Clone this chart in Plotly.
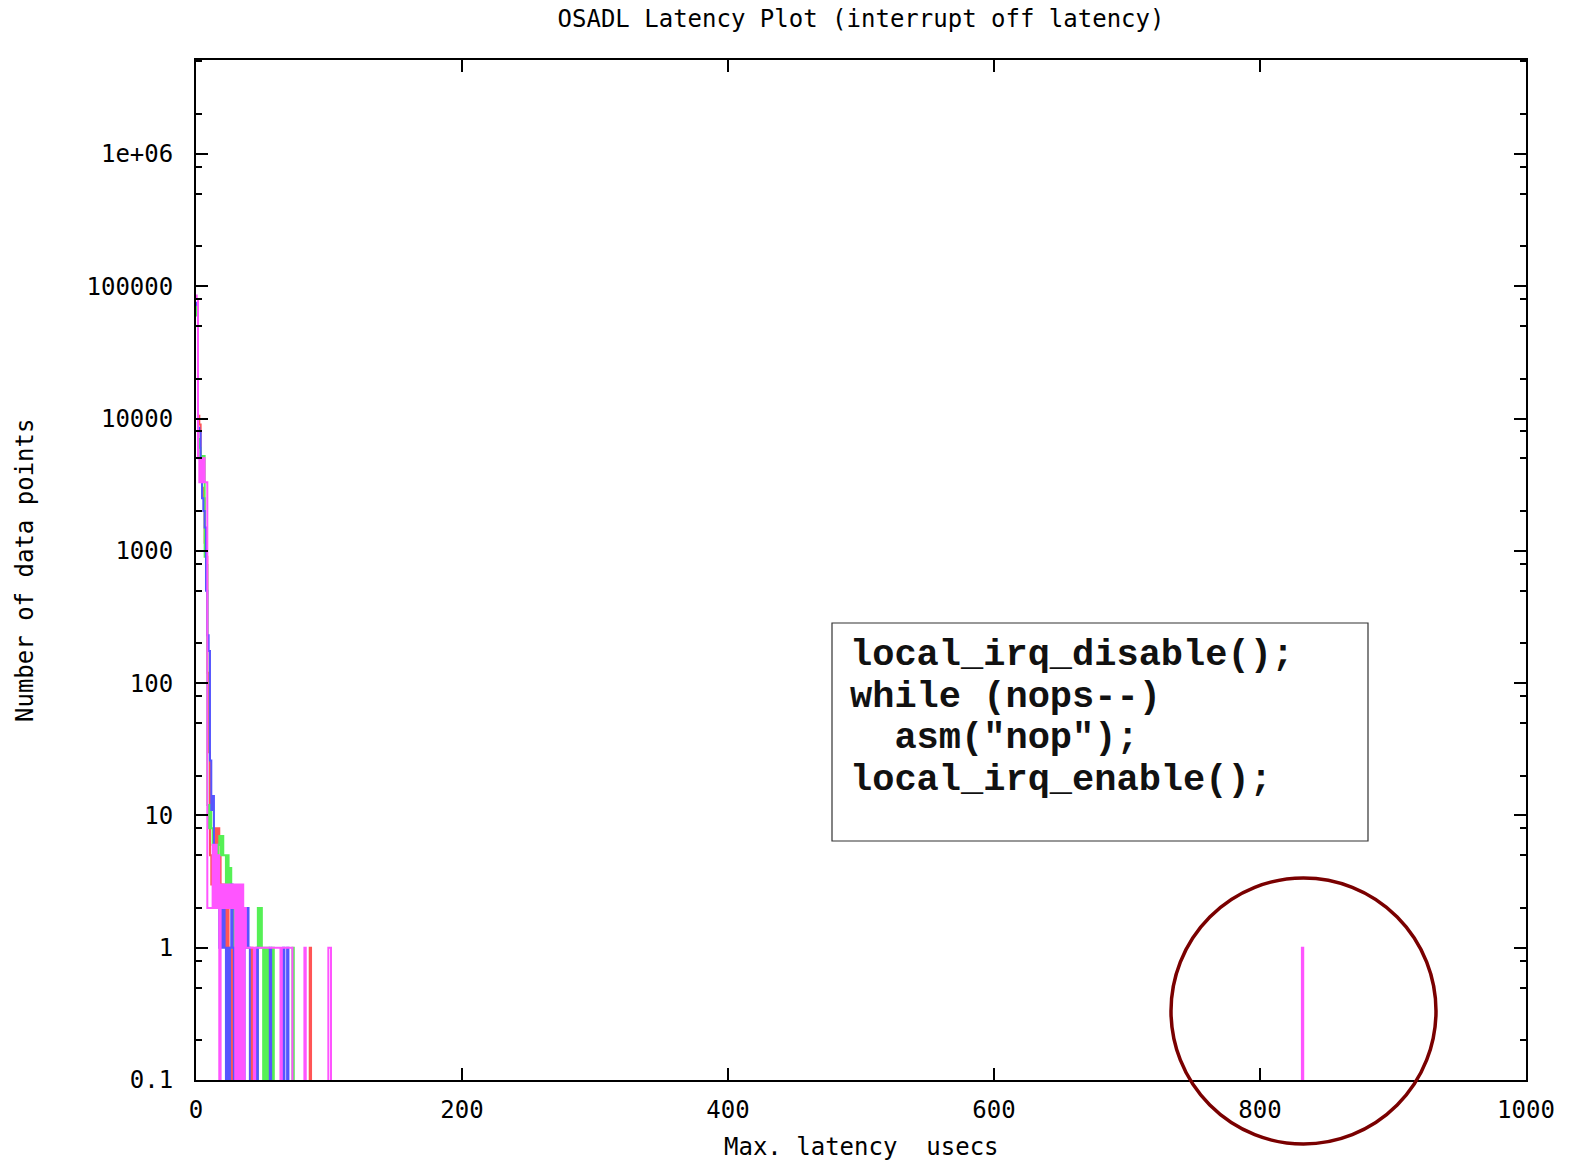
import plotly.graph_objects as go

# ---------------- data ----------------
# histogram counts per 1-usec latency bin (bin index = latency in usecs), four CPUs
red_counts = [70000, 68000, 10500, 9000, 4000, 3000, 2500, 1150, 900, 120,
              30, 5, 3, 3, 3, 8, 6, 8, 6, 3,
              2, 3, 2, 1, 2, 1, 1, 0, 1, 0,
              1, 0, 0, 1, 0, 0, 0, 0, 0, 0,
              0, 0, 1, 0, 0, 0, 0, 0, 0, 0,
              0, 0, 0, 0, 0, 0, 0, 0, 0, 0,
              0, 0, 0, 0, 0, 0, 0, 0, 0, 0,
              0, 0, 0, 0, 0, 0, 0, 0, 0, 0,
              0, 0, 0, 0, 0, 0, 1, 0, 0, 0,
              0, 0, 0, 0, 0, 0, 0, 0, 0, 0,
              0, 0, 0, 0, 0, 0]
green_counts = [72000, 60000, 7000, 6000, 5200, 5000, 5200, 900, 780, 12,
                8, 12, 8, 6, 5, 5, 4, 6, 7, 5,
                7, 5, 5, 3, 5, 3, 4, 2, 1, 2,
                1, 1, 0, 0, 0, 0, 0, 0, 0, 0,
                0, 0, 0, 0, 0, 0, 0, 2, 1, 2,
                1, 0, 1, 0, 1, 0, 0, 0, 1, 0,
                0, 0, 0, 0, 0, 0, 0, 0, 0, 0,
                0, 0, 0, 1, 0, 0, 0, 0, 0, 0,
                0, 0, 0, 0, 0, 0, 0, 0, 0, 0,
                0, 0, 0, 0, 0, 0, 0, 0, 0, 0,
                0, 0, 0, 0, 0, 0]
blue_counts = [75000, 72000, 8500, 8000, 3500, 2500, 2000, 1500, 500, 230,
               175, 26, 11, 14, 6, 4, 3, 2, 1, 2,
               1, 2, 1, 0, 1, 0, 1, 3, 1, 0,
               0, 0, 0, 0, 0, 0, 0, 2, 1, 2,
               1, 0, 0, 0, 0, 0, 1, 0, 0, 0,
               0, 0, 0, 0, 0, 0, 1, 0, 0, 0,
               0, 0, 0, 0, 0, 0, 1, 0, 0, 1,
               0, 0, 0, 0, 0, 0, 0, 0, 0, 0,
               0, 0, 0, 0, 0, 0, 0, 0, 0, 0,
               0, 0, 0, 0, 0, 0, 0, 0, 0, 0,
               0, 0, 0, 0, 0, 0]
magenta_counts = [85000, 80000, 5000, 3300, 5000, 3300, 5000, 3300, 3300, 2,
                  2, 2, 2, 6, 2, 6, 2, 5, 0, 3,
                  2, 3, 2, 3, 2, 3, 2, 3, 2, 3,
                  0, 3, 0, 3, 0, 3, 0, 2, 1, 1,
                  1, 1, 1, 1, 0, 1, 1, 1, 1, 1,
                  1, 1, 1, 1, 1, 1, 1, 1, 1, 1,
                  1, 1, 1, 1, 0, 1, 1, 1, 1, 1,
                  1, 1, 1, 0, 0, 0, 0, 0, 0, 0,
                  0, 0, 1, 0, 0, 0, 0, 0, 0, 0,
                  0, 0, 0, 0, 0, 0, 0, 0, 0, 0,
                  1, 1, 0, 0, 0, 0]
# the single far outlier of the magenta CPU (bins around it are empty)
magenta_outlier_bins = [831, 832, 833]
magenta_outlier_counts = [0, 1, 0]

series_names = ["CPU0", "CPU1", "CPU2", "CPU3"]
series_colors = ["#ff5555", "#55f055", "#5555ff", "#ff55ff"]

x_ticks = [0, 200, 400, 600, 800, 1000]
y_ticks = [0.1, 1, 10, 100, 1000, 10000, 100000, 1000000]
y_ticktext = ["0.1", "1", "10", "100", "1000", "10000", "100000", "1e+06"]
y_minor = [m * 10.0 ** e for e in range(-1, 7) for m in (2, 5, 8)]

code_lines = ["local_irq_disable();", "while (nops--)",
              "\u00a0\u00a0asm(\"nop\");", "local_irq_enable();"]

FLOOR = 1e-3  # empty bins drawn below the visible log range (gnuplot style)

# ---------------- figure ----------------
fig = go.Figure()
all_series = [
    (list(range(len(red_counts))), red_counts),
    (list(range(len(green_counts))), green_counts),
    (list(range(len(blue_counts))), blue_counts),
    (list(range(len(magenta_counts))) + magenta_outlier_bins,
     magenta_counts + magenta_outlier_counts),
]
for (xs, cs), name, col in zip(all_series, series_names, series_colors):
    ys = [c if c > 0 else FLOOR for c in cs]
    fig.add_trace(go.Scatter(x=xs, y=ys, mode="lines", name=name,
                             line=dict(color=col, width=2, shape="hvh"),
                             showlegend=False))

mono = "DejaVu Sans Mono"
FS = 24
L, R, T, B = 196, 56, 60, 81
W, H = 1582, 1161
pw, ph = W - L - R, H - T - B


def px_x(x):
    return (x - L) / pw


def px_y(y):
    return (H - B - y) / ph


fig.update_layout(
    width=W, height=H,
    margin=dict(l=L, r=R, t=T, b=B),
    paper_bgcolor="white", plot_bgcolor="white",
    font=dict(family=mono, size=FS, color="black"),
    title=dict(text="OSADL Latency Plot (interrupt off latency)",
               x=0.5, xref="paper", y=1 - 19 / H, yref="container",
               yanchor="middle", xanchor="center",
               font=dict(family=mono, size=FS, color="black")),
    xaxis=dict(range=[0, 1000], tickmode="array", tickvals=x_ticks,
               ticks="inside", ticklen=12, tickwidth=2, tickcolor="black",
               showline=True, linewidth=2, linecolor="black", mirror="allticks",
               showgrid=False, zeroline=False, ticklabelstandoff=7,
               tickfont=dict(family=mono, size=FS)),
    yaxis=dict(type="log", range=[-1, 6.71], tickmode="array",
               tickvals=y_ticks, ticktext=y_ticktext,
               ticks="inside", ticklen=12, tickwidth=2, tickcolor="black",
               minor=dict(tickmode="array", tickvals=y_minor, ticks="inside",
                          ticklen=6, tickwidth=2, tickcolor="black"),
               showline=True, linewidth=2, linecolor="black", mirror="allticks",
               showgrid=False, zeroline=False, ticklabelstandoff=16,
               tickfont=dict(family=mono, size=FS)),
)

# axis titles
fig.add_annotation(text="Max. latency\u00a0 usecs", xref="paper", yref="paper",
                   x=px_x(861), y=px_y(1147), showarrow=False,
                   xanchor="center", yanchor="middle",
                   font=dict(family=mono, size=FS, color="black"))
fig.add_annotation(text="Number of data points", xref="paper", yref="paper",
                   x=px_x(25), y=px_y(571), showarrow=False, textangle=-90,
                   xanchor="center", yanchor="middle",
                   font=dict(family=mono, size=FS, color="black"))

# code box
fig.add_shape(type="rect", xref="paper", yref="paper",
              x0=px_x(832), x1=px_x(1368), y0=px_y(841), y1=px_y(623),
              line=dict(color="#333333", width=1.2), fillcolor="rgba(0,0,0,0)")
for i, line in enumerate(code_lines):
    fig.add_annotation(text=line, xref="paper", yref="paper",
                       x=px_x(848), y=px_y(655 + i * 41.7), showarrow=False,
                       xanchor="left", yanchor="middle",
                       font=dict(family="Liberation Mono", size=37,
                                 color="#111111", weight="bold"))

# highlight circle around the outlier
fig.add_shape(type="circle", xref="paper", yref="paper",
              x0=px_x(1171), x1=px_x(1436), y0=px_y(1144), y1=px_y(878),
              line=dict(color="#7a0000", width=3.5))

fig.write_html("out.html")
